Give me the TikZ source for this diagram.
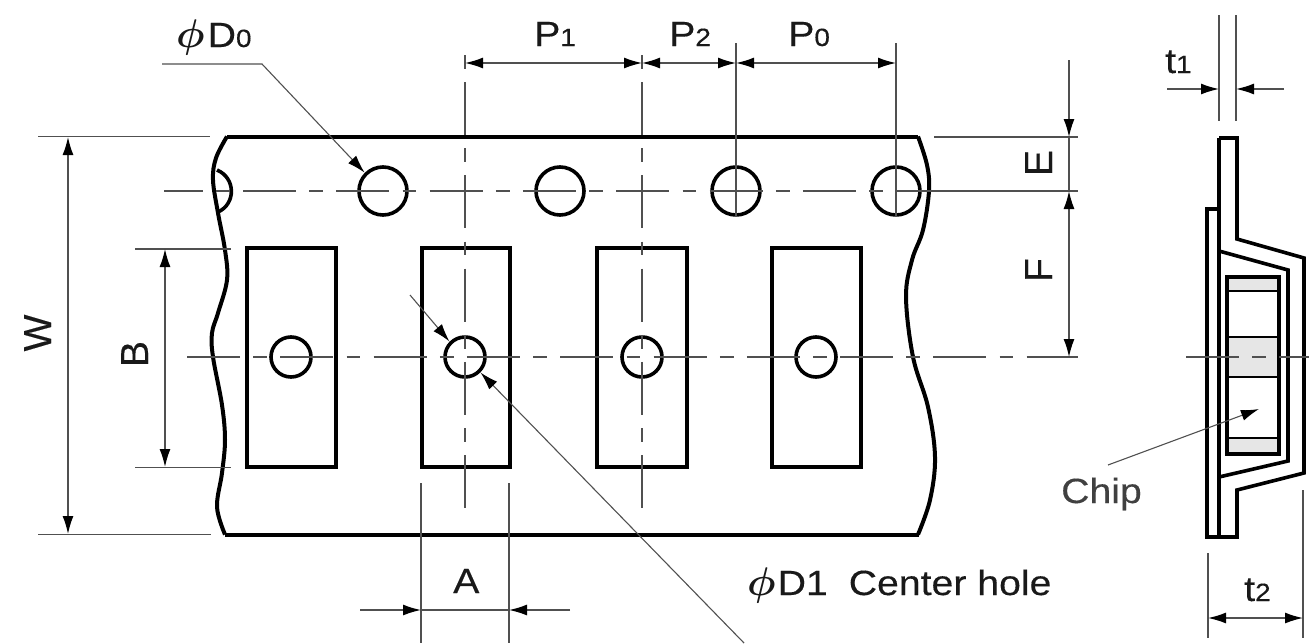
\RequirePackage{fix-cm}
\documentclass[tikz,border=0pt]{standalone}
\usepackage{fontspec}
\usetikzlibrary{arrows.meta}
\newfontfamily\wideface[FakeStretch=1.12,FakeBold=0.35]{Liberation Sans}
\newfontfamily\plainface[FakeBold=0.35]{Liberation Sans}
\newcommand{\lab}{\wideface\fontsize{35}{35}\selectfont}
\newcommand{\vlab}{\plainface\fontsize{39}{39}\selectfont}
\newcommand{\low}[1]{{\fontsize{25}{25}\selectfont #1}}
\newcommand{\dia}{{\fontsize{40}{40}\selectfont\boldmath$\phi$}}
\definecolor{thinc}{HTML}{505050}
\definecolor{chipc}{HTML}{E6E6E6}
\tikzset{
  >={Latex[length=18pt,width=11pt,color=black]},
  heavy/.style={line width=4pt,black,line join=miter},
  thin line/.style={line width=1.4pt,thinc},
  leader/.style={line width=1.1pt,thinc},
  centre/.style={thin line,dash pattern=on 53pt off 13.3pt on 13.7pt off 13.3pt},
  hole/.style={circle,draw,line width=3.6pt,minimum size=48pt,inner sep=0pt,outer sep=2pt},
  pin/.style={hole,minimum size=40pt},
  txt/.style={anchor=base west,inner sep=0pt,font=\lab,text=black!90},
  vtxt/.style={anchor=base,rotate=90,inner sep=0pt,font=\vlab,text=black!90}
}
\begin{document}
\begin{tikzpicture}[x=1pt,y=-1pt]
\useasboundingbox (0,0) rectangle (1309,643);

% tape outline
\draw [heavy] (227,136.5) to (918,136.5);
\draw [heavy] (225,534.5) to (919,534.5);
\draw [heavy] plot [smooth, tension=0.6] coordinates {(227,136.5) (216,158) (213,180) (218,213) (225,250) (227,280) (218,313) (212,333) (213,357) (222,405) (225,440) (222,473) (217,507) (225,534.5)};
\draw [heavy] plot [smooth, tension=0.6] coordinates {(918,136.5) (927,165) (929,191) (923,230) (912,260) (906,297) (913,357) (928,407) (935,457) (930,500) (918,534.5)};
\draw [line width=3.6pt] (217,170) .. controls (236,178) and (236,204) .. (218,212);

% sprocket holes and pockets
\foreach \n/\x in {a/383,b/560,c/736,d/896}
  \node [hole] (hole\n) at (\x,191) {};
\foreach \n/\x/\w in {a/247/336,b/422/510,c/597/687,d/772/861}
  \draw [heavy] (\x,248) rectangle (\w,467);
\foreach \n/\x in {a/291,b/465,c/642,d/816}
  \node [pin] (pin\n) at (\x,357) {};

%%%%%%%%%%%%%%%%%%%%%%%%%%%%%%%%%%%%%%%%%%%%%%%%%%%%%%%%%%%%%%%%%%%%%%%
\draw [centre, dash phase=14.3pt] (164,191) to (896,191);
\draw [thin line] (896,191) to (1078,191);
\draw [centre] (187,357) to (1078,357);
\draw [centre, dash phase=66.3pt] (465,55) to (465,508);
\draw [centre, dash phase=66.3pt] (642,55) to (642,508);
\draw [thin line] (736,43) to (736,217);
\draw [thin line] (896,43) to (896,217);

% extension lines
\draw [thin line] (38,136.5) to (210,136.5);
\draw [thin line] (38,534.5) to (211,534.5);
\draw [thin line] (135,249) to (231,249);
\draw [thin line] (135,467.5) to (231,467.5);
\draw [thin line] (934,137) to (1078,137);
\draw [thin line] (421,483) to (421,643);
\draw [thin line] (509,483) to (509,643);

% dimensions
\draw [thin line, <->] (465,63) to (642,63);
\draw [thin line, <->] (642,63) to (736,63);
\draw [thin line, <->] (736,63) to (896,63);
\draw [thin line, <->] (68,137) to (68,534);
\draw [thin line, <->] (165,249) to (165,467);
\draw [thin line, ->] (1069,60) to (1069,137);
\draw [thin line] (1069,137) to (1069,191);
\draw [thin line, <->] (1069,191) to (1069,357);
\draw [thin line, ->] (360,610) to (421,610);
\draw [thin line] (421,610) to (509,610);
\draw [thin line, ->] (570,610) to (509,610);

% leaders
\coordinate (dzero) at (262,64);
\coordinate (done) at (410,295);
\coordinate (dtwo) at (744,643);
\draw [leader, ->] (162,64) to (dzero) to (holea.135);
\draw [leader, ->] (done) to (pinb.135);
\draw [leader, ->] (dtwo) to (pinb.-45);

%%%%%%%%%%%%%%%%%%%%%%%%%%%%%%%%%%%%%%%%%%%%%%%%%%%%%%%%%%%%%%%%%%%%%%%
% side view
\path [fill=chipc] (1227,277) rectangle (1279,291);
\path [fill=chipc] (1227,337) rectangle (1279,377);
\path [fill=chipc] (1227,438) rectangle (1279,454);
\draw [line width=2.4pt] (1227,291) to (1279,291);
\draw [line width=2.4pt] (1227,337) to (1279,337);
\draw [line width=2.4pt] (1227,377) to (1279,377);
\draw [line width=2.4pt] (1227,438) to (1279,438);
\draw [line width=3.4pt] (1227,277) rectangle (1279,454);
\draw [line width=3.6pt] (1219,138) -- (1237,138) -- (1237,239) -- (1304,258) -- (1304,473) -- (1237,490) -- (1237,537) -- (1207,537) -- (1207,209) -- (1219,209);
\draw [line width=3.6pt] (1219,138) to (1219,537);
\draw [line width=3.6pt] (1219,251) -- (1288,270) -- (1288,461) -- (1219,477);

\draw [centre] (1186,357) to (1309,357);
\draw [thin line] (1219,15) to (1219,121);
\draw [thin line] (1236,15) to (1236,121);
\draw [thin line, ->] (1167,89) to (1219,89);
\draw [thin line, ->] (1284,89) to (1236,89);
\draw [thin line] (1208,553) to (1208,638);
\draw [thin line] (1303,490) to (1303,638);
\draw [thin line, <->] (1208,618) to (1303,618);

\coordinate (chipfrom) at (1108,465);
\coordinate (chipto) at (1259,409);
\draw [leader, ->] (chipfrom) to (chipto);

%%%%%%%%%%%%%%%%%%%%%%%%%%%%%%%%%%%%%%%%%%%%%%%%%%%%%%%%%%%%%%%%%%%%%%%
\node [txt] (labdzero) at (176,47) {\dia\hspace{3pt}D\low{0}};
\node [txt] (labpone) at (534,46) {P\low{1}};
\node [txt] (labptwo) at (669,46) {P\low{2}};
\node [txt] (labpzero) at (788,46) {P\low{0}};
\node [txt] (labtone) at (1165,73) {t\low{1}};
\node [txt] (labttwo) at (1244,601) {t\low{2}};
\node [txt] (laba) at (453,593) {A};
\node [txt] (labdone) at (747,595) {\dia\hspace{2pt}D1\hspace{21pt}Center hole};
\node [txt, text=black!75] (labchip) at (1061,503) {Chip};
\node [vtxt] (labw) at (51,333) {W};
\node [vtxt] (labb) at (148,354) {B};
\node [vtxt] (labe) at (1052,163) {E};
\node [vtxt] (labf) at (1052,270) {F};
\end{tikzpicture}
\end{document}
